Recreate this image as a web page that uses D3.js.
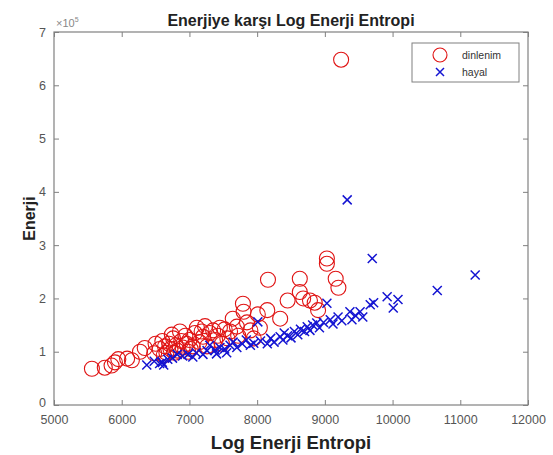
<!DOCTYPE html>
<head>
  <meta charset="utf-8">
  <title>Enerjiye karşı Log Enerji Entropi</title>
  <script src="https://d3js.org/d3.v7.min.js"></script>
  <style type="text/css">
    body { margin: 0; background: #fff; }
    svg { font-family: "Liberation Sans", Arial, sans-serif; }
    .tick-label { fill: #555; font-size: 12.5px; }
    .frame { fill: none; stroke: #808080; stroke-width: 1.2px; }
  </style>
</head>
<body>
  <div id="graph-container"></div>

<script>
// =================== Data ======================
// dinlenim (red circles): [log energy entropy, energy x10^5]
const dinlenimX = [5560, 5750, 5850, 5900, 5950, 6080, 6150, 6270, 6340, 6480,
  6500, 6560, 6600, 6620, 6640, 6660, 6700, 6720, 6740, 6760, 6780, 6800, 6820,
  6860, 6880, 6900, 6940, 6960, 6980, 7000, 7020, 7050, 7080, 7110, 7150, 7180,
  7200, 7230, 7260, 7300, 7350, 7380, 7420, 7450, 7480, 7520, 7560, 7600, 7640,
  7700, 7720, 7790, 7800, 7850, 7900, 7950, 8010, 8040, 8150, 8160, 8340, 8450,
  8630, 8630, 8680, 8780, 8850, 8900, 9030, 9030, 9160, 9200, 9240];
const dinlenimY = [0.68, 0.70, 0.74, 0.80, 0.86, 0.87, 0.84, 1.00, 1.07, 0.97,
  1.15, 1.05, 1.20, 0.93, 1.10, 0.98, 1.15, 1.05, 1.32, 1.25, 0.98, 1.12, 1.02,
  1.38, 1.20, 1.08, 1.30, 1.15, 1.00, 1.22, 1.05, 1.10, 1.35, 1.45, 1.18, 1.38,
  1.28, 1.48, 1.10, 1.35, 1.40, 1.22, 1.30, 1.45, 1.15, 1.42, 1.25, 1.38, 1.62,
  1.47, 1.30, 1.90, 1.75, 1.55, 1.40, 1.25, 1.70, 1.45, 1.78, 2.35, 1.62, 1.96,
  2.37, 2.12, 2.00, 1.96, 1.92, 1.78, 2.75, 2.65, 2.37, 2.20, 6.48];

// hayal (blue crosses)
const hayalX = [6370, 6480, 6560, 6600, 6620, 6680, 6750, 6820, 6900, 6980,
  7050, 7100, 7200, 7260, 7300, 7380, 7400, 7450, 7520, 7550, 7600, 7645, 7700,
  7780, 7840, 7900, 7950, 8010, 8050, 8150, 8200, 8250, 8340, 8380, 8400, 8450,
  8500, 8550, 8600, 8640, 8700, 8740, 8780, 8820, 8880, 8920, 8980, 9030, 9080,
  9120, 9195, 9250, 9330, 9370, 9400, 9450, 9520, 9560, 9670, 9700, 9720, 9920,
  10010, 10080, 10660, 11220];
const hayalY = [0.75, 0.82, 0.78, 0.80, 0.75, 0.86, 0.88, 0.95, 0.92, 0.95,
  0.90, 0.98, 0.95, 1.02, 1.12, 1.03, 0.96, 1.08, 1.05, 0.98, 1.12, 1.18, 1.08,
  1.15, 1.22, 1.12, 1.16, 1.56, 1.20, 1.15, 1.25, 1.18, 1.28, 1.22, 1.35, 1.30,
  1.26, 1.38, 1.32, 1.42, 1.38, 1.47, 1.40, 1.50, 1.54, 1.45, 1.55, 1.91, 1.60,
  1.52, 1.65, 1.58, 3.85, 1.75, 1.60, 1.68, 1.75, 1.65, 1.88, 2.75, 1.92, 2.03,
  1.82, 1.98, 2.15, 2.44];

const xTicks = [5000, 6000, 7000, 8000, 9000, 10000, 11000, 12000];
const yTicks = [0, 1, 2, 3, 4, 5, 6, 7];  // x10^5
const legendLabels = ["dinlenim", "hayal"];

// =================== Chart ======================
const width = 553, height = 455;
const plot = { left: 54, right: 528, top: 32, bottom: 405 };

const svg = d3.select("#graph-container").append("svg")
    .attr("width", width)
    .attr("height", height);

const x = d3.scaleLinear().domain([5000, 12000]).range([plot.left, plot.right]);
const y = d3.scaleLinear().domain([0, 7]).range([plot.bottom, plot.top]);

// frame (box on)
svg.append("rect")
  .attr("class", "frame")
  .attr("x", plot.left).attr("y", plot.top)
  .attr("width", plot.right - plot.left)
  .attr("height", plot.bottom - plot.top);

// inward ticks on all four sides
const tickLen = 5;
svg.append("g")
  .attr("transform", "translate(0," + plot.bottom + ")")
  .call(d3.axisBottom(x).tickValues(xTicks).tickSizeInner(-tickLen).tickSizeOuter(0).tickFormat(d3.format("d")))
  .call(g => g.select(".domain").remove())
  .call(g => g.selectAll("line").attr("stroke", "#808080"))
  .call(g => g.selectAll("text").attr("class", "tick-label").attr("dy", "0.95em").attr("y", 7));

svg.append("g")
  .attr("transform", "translate(0," + plot.top + ")")
  .call(d3.axisTop(x).tickValues(xTicks).tickSizeInner(-tickLen).tickSizeOuter(0).tickFormat(""))
  .call(g => g.select(".domain").remove())
  .call(g => g.selectAll("line").attr("stroke", "#808080"));

svg.append("g")
  .attr("transform", "translate(" + plot.left + ",0)")
  .call(d3.axisLeft(y).tickValues(yTicks).tickSizeInner(-tickLen).tickSizeOuter(0).tickFormat(d3.format("d")))
  .call(g => g.select(".domain").remove())
  .call(g => g.selectAll("line").attr("stroke", "#808080"))
  .call(g => g.selectAll("text").attr("class", "tick-label").attr("x", -8)
    .attr("dy", d => d === 0 ? "0.1em" : "0.32em"));

svg.append("g")
  .attr("transform", "translate(" + plot.right + ",0)")
  .call(d3.axisRight(y).tickValues(yTicks).tickSizeInner(-tickLen).tickSizeOuter(0).tickFormat(""))
  .call(g => g.select(".domain").remove())
  .call(g => g.selectAll("line").attr("stroke", "#808080"));

// exponent label
const expo = svg.append("text")
  .attr("x", plot.left + 2).attr("y", plot.top - 5)
  .attr("fill", "#888").attr("font-size", "11px");
expo.append("tspan").text("\u00d710");
expo.append("tspan").attr("dy", -5).attr("font-size", "7px").text("5");

// title and axis labels
svg.append("text")
  .attr("x", (plot.left + plot.right) / 2).attr("y", 26)
  .attr("text-anchor", "middle")
  .attr("font-weight", "bold").attr("font-size", "16px").attr("fill", "#222")
  .text("Enerjiye karşı Log Enerji Entropi");

svg.append("text")
  .attr("x", (plot.left + plot.right) / 2).attr("y", 449)
  .attr("text-anchor", "middle")
  .attr("font-weight", "bold").attr("font-size", "18.5px").attr("fill", "#222")
  .text("Log Enerji Entropi");

svg.append("text")
  .attr("transform", "translate(35," + ((plot.top + plot.bottom) / 2) + ") rotate(-90)")
  .attr("text-anchor", "middle")
  .attr("font-weight", "bold").attr("font-size", "16px").attr("fill", "#222")
  .text("Enerji");

// markers
const red = "#e01414", blue = "#1414d2";
const crossPath = s => "M" + (-s) + "," + (-s) + "L" + s + "," + s + "M" + (-s) + "," + s + "L" + s + "," + (-s);

svg.append("g").selectAll("circle")
    .data(d3.zip(dinlenimX, dinlenimY))
  .enter().append("circle")
    .attr("cx", d => x(d[0]))
    .attr("cy", d => y(d[1]))
    .attr("r", 7.5)
    .attr("fill", "none")
    .attr("stroke", red)
    .attr("stroke-width", 1.1);

svg.append("g").selectAll("path")
    .data(d3.zip(hayalX, hayalY))
  .enter().append("path")
    .attr("transform", d => "translate(" + x(d[0]) + "," + y(d[1]) + ")")
    .attr("d", crossPath(4.5))
    .attr("fill", "none")
    .attr("stroke", blue)
    .attr("stroke-width", 1.5);

// legend
const legend = svg.append("g");
legend.append("rect")
  .attr("x", 412).attr("y", 43).attr("width", 107).attr("height", 39)
  .attr("fill", "#fff").attr("stroke", "#808080").attr("stroke-width", 1);
legend.append("circle")
  .attr("cx", 440).attr("cy", 55).attr("r", 7)
  .attr("fill", "none").attr("stroke", red).attr("stroke-width", 1.1);
legend.append("path")
  .attr("transform", "translate(440,72)")
  .attr("d", crossPath(4))
  .attr("fill", "none").attr("stroke", blue).attr("stroke-width", 1.5);
legend.selectAll("text.lg")
    .data(legendLabels)
  .enter().append("text")
    .attr("class", "lg")
    .attr("x", 462)
    .attr("y", (d, i) => 59 + i * 17)
    .attr("font-size", "10.5px").attr("fill", "#333")
    .text(d => d);
</script>
